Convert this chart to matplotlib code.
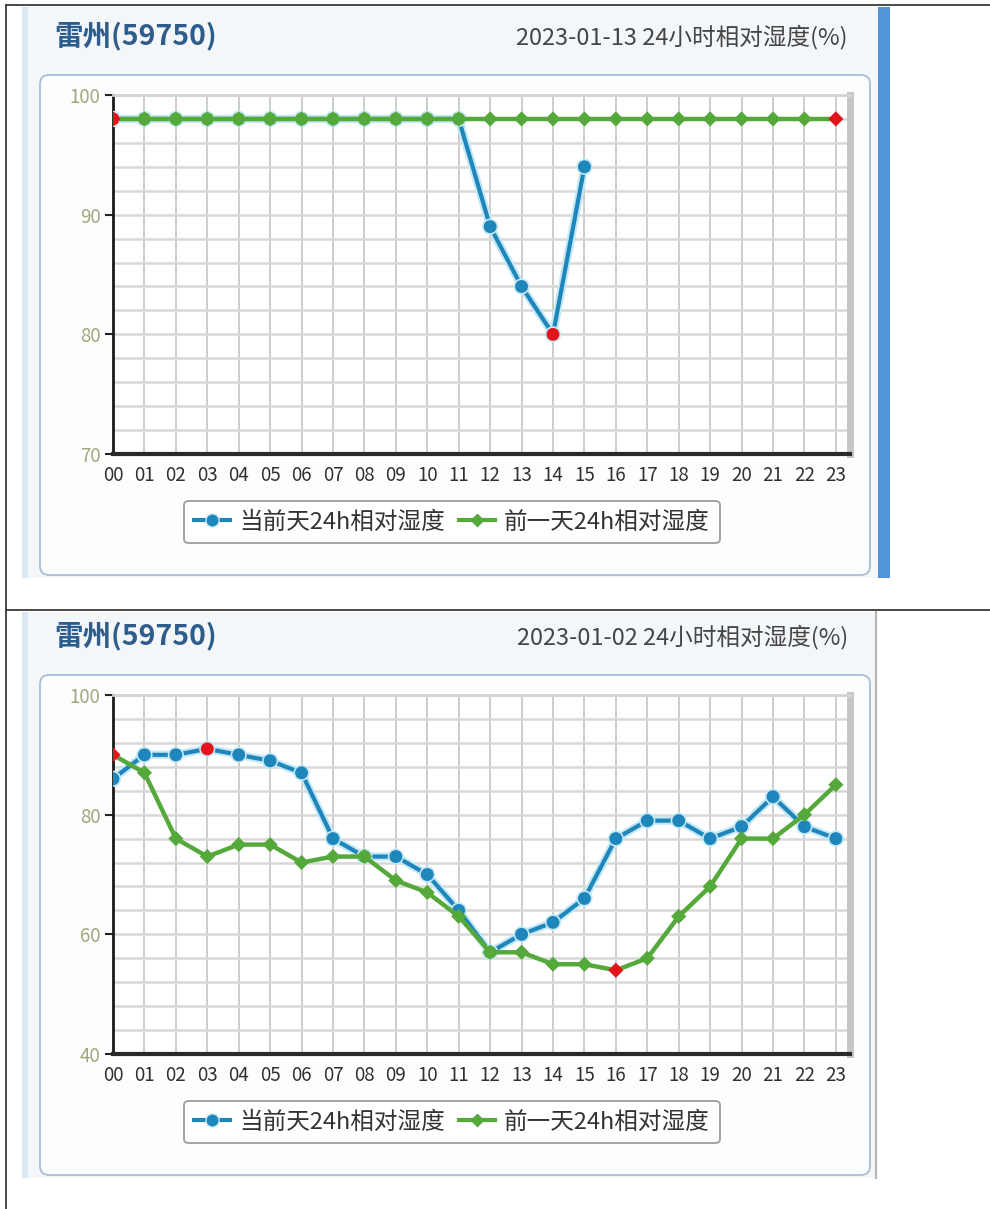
import numpy as np
import matplotlib.pyplot as plt
from matplotlib.patches import FancyBboxPatch, Rectangle
from matplotlib.lines import Line2D
import matplotlib.patheffects as pe

plt.rcParams['font.family'] = ['Noto Sans CJK SC', 'DejaVu Sans']

# data
hours = ["00", "01", "02", "03", "04", "05", "06", "07", "08", "09", "10", "11",
         "12", "13", "14", "15", "16", "17", "18", "19", "20", "21", "22", "23"]
station = "雷州(59750)"
chart_title = "24小时相对湿度(%)"
series_names = ["当前天24h相对湿度", "前一天24h相对湿度"]

date_a = "2023-01-13"
cur_a = [98, 98, 98, 98, 98, 98, 98, 98, 98, 98, 98, 98,
         89, 84, 80, 94, np.nan, np.nan, np.nan, np.nan, np.nan, np.nan, np.nan, np.nan]
prev_a = [98, 98, 98, 98, 98, 98, 98, 98, 98, 98, 98, 98,
          98, 98, 98, 98, 98, 98, 98, 98, 98, 98, 98, 98]
yticks_a = [70, 80, 90, 100]

date_b = "2023-01-02"
cur_b = [86, 90, 90, 91, 90, 89, 87, 76, 73, 73, 70, 64,
         57, 60, 62, 66, 76, 79, 79, 76, 78, 83, 78, 76]
prev_b = [90, 87, 76, 73, 75, 75, 72, 73, 73, 69, 67, 63,
          57, 57, 55, 55, 54, 56, 63, 68, 76, 76, 80, 85]
yticks_b = [40, 60, 80, 100]

W, H = 990, 1209
BLUE = '#1f86bb'
GREEN = '#55a93b'
RED = '#e3141b'
HALO = '#c4e8f6'

fig = plt.figure(figsize=(W / 100, H / 100), dpi=100)
fig.patch.set_facecolor('white')

# background axes in pixel coordinates
bg = fig.add_axes([0, 0, 1, 1])
bg.set_xlim(0, W)
bg.set_ylim(H, 0)
bg.axis('off')

# table borders
bg.plot([6, 6], [5, H], color='#3a3a3a', lw=1.3)
bg.plot([6, W], [5, 5], color='#3a3a3a', lw=1.3)
bg.plot([6, W], [610, 610], color='#3a3a3a', lw=1.3)


def highlights(vals, base):
    v = np.array(vals, dtype=float)
    cols = [base] * len(v)
    cols[int(np.nanargmax(v))] = RED
    last_min = len(v) - 1 - int(np.nanargmin(v[::-1]))
    cols[last_min] = RED
    return cols


def draw_panel(off, date, cur, prev, yticks, top_panel):
    # screenshot background
    y_start = 7 + off if top_panel else 612
    right = 878 if top_panel else 876
    bg.add_patch(Rectangle((22, y_start), right - 22, 578 + off - y_start,
                           fc='#f4f7fa', ec='none'))
    bg.add_patch(Rectangle((22, y_start), 6, 578 + off - y_start,
                           fc='#dbe7f3', ec='none'))
    if top_panel:
        bg.add_patch(Rectangle((878, y_start), 12, 578 + off - y_start,
                               fc='#4f95d8', ec='none'))
    else:
        bg.plot([876, 876], [y_start, 578 + off], color='#b4b4b4', lw=1.5)

    bg.text(54, 36 + off, station, fontsize=20.5, fontweight='bold',
            color='#2e5d8c', ha='left', va='center')
    bg.text(848, 37 + off, date + " " + chart_title, fontsize=17,
            color='#454545', ha='right', va='center')

    bg.add_patch(FancyBboxPatch((40, 75 + off), 830, 500,
                                boxstyle='round,pad=0,rounding_size=9',
                                fc='#fcfdfe', ec='#a9bed3', lw=1.3))

    # chart axes
    ax = fig.add_axes([113 / W, 1 - (454 + off) / H, (850 - 113) / W, (454 - 95) / H])
    ax.set_facecolor('white')
    x = np.arange(len(hours))
    ax.set_xlim(0, 23.45)
    ax.set_ylim(yticks[0], yticks[-1])
    ax.set_xticks(x)
    ax.set_xticklabels(hours)
    ax.set_yticks(yticks)
    step = (yticks[1] - yticks[0]) / 5
    ax.set_yticks(np.arange(yticks[0], yticks[-1] + step / 2, step), minor=True)
    ax.grid(axis='x', which='major', color='#cdcdcd', lw=1.4)
    ax.grid(axis='y', which='both', color='#d8d8d8', lw=1.8)
    ax.set_axisbelow(True)
    ax.tick_params(axis='x', length=0, pad=8, labelsize=13.5, labelcolor='#303030')
    ax.tick_params(axis='y', which='major', length=6, width=1.5, color='#222222',
                   pad=3, labelsize=13.5, labelcolor='#a3a67b')
    ax.tick_params(axis='y', which='minor', length=0)
    ax.spines['left'].set_color('#1a1a1a')
    ax.spines['left'].set_linewidth(2)
    ax.spines['bottom'].set_color('#2a2a2a')
    ax.spines['bottom'].set_linewidth(3)
    ax.spines['right'].set_color('#c6c6c6')
    ax.spines['right'].set_linewidth(5)
    ax.spines['top'].set_color('#d4d4d4')
    ax.spines['top'].set_linewidth(2)

    green_cols = highlights(prev, GREEN)
    blue_cols = highlights(cur, BLUE)
    # where both days are equal the previous-day marker sits on top
    blue_cols = [green_cols[i] if cur[i] == prev[i] else c for i, c in enumerate(blue_cols)]

    ax.plot(x, cur, color=BLUE, lw=3, zorder=3,
            path_effects=[pe.Stroke(linewidth=6, foreground=HALO), pe.Normal()])
    ax.scatter(x, cur, s=110, c=blue_cols, edgecolors=HALO, linewidths=1.2, zorder=4)
    ax.plot(x, prev, color=GREEN, lw=3.2, zorder=5)
    ax.scatter(x, prev, s=60, marker='D', c=green_cols, edgecolors='none', zorder=6)

    handles = [
        Line2D([], [], color=BLUE, lw=3, marker='o', markersize=9.5,
               markeredgecolor=HALO),
        Line2D([], [], color=GREEN, lw=3, marker='D', markersize=7,
               markeredgecolor='none'),
    ]
    leg = fig.legend(handles, series_names, loc='center', ncol=2,
                     bbox_to_anchor=(452, 522 + off), bbox_transform=bg.transData,
                     fontsize=17, handlelength=1.5, handletextpad=0.4,
                     columnspacing=0.6, borderpad=0.42, frameon=True, fancybox=True)
    frame = leg.get_frame()
    frame.set_edgecolor('#9c9c9c')
    frame.set_linewidth(1.3)
    frame.set_facecolor('white')
    frame.set_alpha(1)
    for t in leg.get_texts():
        t.set_color('#333333')
    return ax


draw_panel(0, date_a, cur_a, prev_a, yticks_a, True)
draw_panel(600, date_b, cur_b, prev_b, yticks_b, False)

fig.savefig('out.png', dpi=100, facecolor='white')
